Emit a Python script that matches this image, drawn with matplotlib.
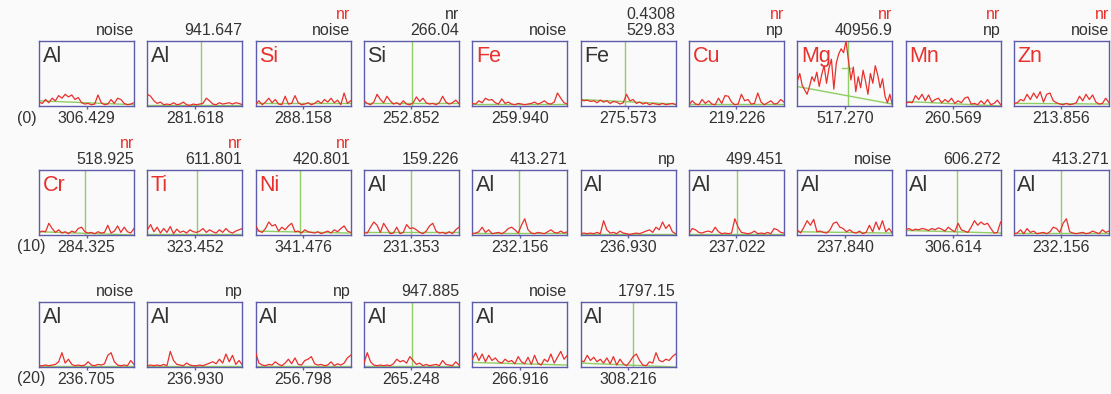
import matplotlib
matplotlib.use("Agg")
import matplotlib.pyplot as plt
import numpy as np

plt.rcParams['font.family'] = ['Liberation Sans', 'DejaVu Sans']

# panel data
elements = ['Al', 'Al', 'Si', 'Si', 'Fe', 'Fe', 'Cu', 'Mg', 'Mn', 'Zn',
            'Cr', 'Ti', 'Ni', 'Al', 'Al', 'Al', 'Al', 'Al', 'Al', 'Al',
            'Al', 'Al', 'Al', 'Al', 'Al', 'Al']
flagged = [False, False, True, False, True, False, True, True, True, True,
           True, True, True, False, False, False, False, False, False, False,
           False, False, False, False, False, False]
top_extra = ['', '', 'nr', 'nr', '', '0.4308', 'nr', 'nr', 'nr', 'nr',
             'nr', 'nr', 'nr', '', '', '', '', '', '', '',
             '', '', '', '', '', '']
top_values = ['noise', '941.647', 'noise', '266.04', 'noise', '529.83', 'np', '40956.9', 'np', 'noise',
              '518.925', '611.801', '420.801', '159.226', '413.271', 'np', '499.451', 'noise', '606.272', '413.271',
              'noise', 'np', 'np', '947.885', 'noise', '1797.15']
wavelengths = ['306.429', '281.618', '288.158', '252.852', '259.940', '275.573', '219.226', '517.270', '260.569', '213.856',
               '284.325', '323.452', '341.476', '231.353', '232.156', '236.930', '237.022', '237.840', '306.614', '232.156',
               '236.705', '236.930', '256.798', '265.248', '266.916', '308.216']
peak_pos = [None, 0.57, None, 0.51, None, 0.47, None, 0.53, None, None,
            0.48, 0.52, 0.47, 0.49, 0.49, None, 0.51, None, 0.54, 0.49,
            None, None, None, 0.51, None, 0.55]
baselines = [(0.08, 0.02), (0.02, 0.02), (0.04, 0.04), (0.04, 0.04), (0.03, 0.03), (0.10, 0.03),
             (0.03, 0.03), (0.30, 0.03), (0.07, 0.0), (0.04, 0.03),
             (0.05, 0.0), (0.02, 0.02), (0.06, 0.03), (0.04, 0.04), (0.03, 0.03), (0.01, 0.01),
             (0.02, 0.02), (0.05, 0.03), (0.07, 0.03), (0.03, 0.03),
             (0.02, 0.02), (0.02, 0.02), (0.02, 0.02), (0.02, 0.02), (0.07, 0.03), (0.06, 0.0)]
row_labels = ['(0)', '(10)', '(20)']

traces = [
    [0.06, 0.04, 0.10, 0.05, 0.12, 0.08, 0.16, 0.12, 0.18, 0.14, 0.17, 0.10, 0.13, 0.05, 0.03,
     0.04, 0.02, 0.03, 0.17, 0.05, 0.02, 0.03, 0.10, 0.04, 0.12, 0.10, 0.04, 0.02, 0.03, 0.05],
    [0.18, 0.15, 0.08, 0.04, 0.06, 0.02, 0.03, 0.02, 0.05, 0.02, 0.03, 0.06, 0.02, 0.01, 0.03,
     0.02, 0.03, 0.04, 0.12, 0.08, 0.03, 0.02, 0.05, 0.03, 0.04, 0.05, 0.03, 0.05, 0.04, 0.02],
    [0.03, 0.08, 0.02, 0.06, 0.12, 0.05, 0.10, 0.03, 0.02, 0.15, 0.03, 0.04, 0.16, 0.05, 0.02,
     0.03, 0.05, 0.02, 0.04, 0.08, 0.04, 0.10, 0.06, 0.12, 0.05, 0.09, 0.02, 0.20, 0.04, 0.08],
    [0.08, 0.04, 0.02, 0.06, 0.18, 0.10, 0.05, 0.15, 0.08, 0.03, 0.05, 0.02, 0.08, 0.03, 0.02,
     0.05, 0.14, 0.07, 0.12, 0.05, 0.03, 0.04, 0.02, 0.05, 0.15, 0.06, 0.03, 0.05, 0.09, 0.04],
    [0.04, 0.03, 0.08, 0.05, 0.12, 0.09, 0.10, 0.05, 0.03, 0.11, 0.04, 0.06, 0.03, 0.02, 0.04,
     0.03, 0.02, 0.03, 0.04, 0.06, 0.03, 0.05, 0.08, 0.04, 0.03, 0.06, 0.20, 0.12, 0.05, 0.03],
    [0.10, 0.08, 0.09, 0.07, 0.08, 0.05, 0.09, 0.06, 0.08, 0.04, 0.07, 0.06, 0.03, 0.05, 0.18,
     0.08, 0.10, 0.04, 0.06, 0.03, 0.05, 0.02, 0.04, 0.03, 0.02, 0.04, 0.02, 0.03, 0.04, 0.02],
    [0.02, 0.08, 0.03, 0.02, 0.10, 0.04, 0.08, 0.03, 0.02, 0.12, 0.04, 0.16, 0.15, 0.06, 0.02,
     0.03, 0.18, 0.08, 0.10, 0.03, 0.04, 0.20, 0.06, 0.02, 0.05, 0.08, 0.03, 0.04, 0.10, 0.06],
    [0.38, 0.50, 0.32, 0.25, 0.18, 0.30, 0.45, 0.38, 0.52, 0.30, 0.48, 0.62, 0.35, 0.58, 0.72,
     0.26, 0.66, 0.80, 0.88, 0.82, 1.00, 0.70, 0.40, 0.60, 0.22, 0.45, 0.28, 0.55, 0.38, 0.18,
     0.50, 0.35, 0.62, 0.48, 0.28, 0.42, 0.15, 0.05, 0.18, 0.02],
    [0.04, 0.06, 0.05, 0.16, 0.10, 0.18, 0.08, 0.17, 0.06, 0.10, 0.12, 0.05, 0.10, 0.06, 0.12,
     0.04, 0.08, 0.05, 0.12, 0.14, 0.03, 0.04, 0.02, 0.08, 0.03, 0.10, 0.02, 0.04, 0.09, 0.02],
    [0.04, 0.05, 0.10, 0.08, 0.18, 0.10, 0.20, 0.12, 0.22, 0.06, 0.18, 0.20, 0.08, 0.05, 0.03,
     0.02, 0.04, 0.02, 0.03, 0.05, 0.15, 0.08, 0.18, 0.10, 0.17, 0.06, 0.03, 0.04, 0.12, 0.05],
    [0.04, 0.06, 0.05, 0.18, 0.10, 0.04, 0.08, 0.03, 0.05, 0.02, 0.06, 0.04, 0.10, 0.12, 0.05,
     0.03, 0.04, 0.02, 0.05, 0.03, 0.04, 0.15, 0.03, 0.06, 0.14, 0.04, 0.12, 0.05, 0.03, 0.10],
    [0.08, 0.16, 0.05, 0.12, 0.03, 0.10, 0.04, 0.13, 0.02, 0.09, 0.04, 0.06, 0.03, 0.08, 0.05,
     0.04, 0.06, 0.10, 0.04, 0.08, 0.05, 0.03, 0.08, 0.04, 0.10, 0.05, 0.03, 0.06, 0.08, 0.10],
    [0.14, 0.06, 0.04, 0.10, 0.20, 0.14, 0.16, 0.06, 0.12, 0.08, 0.14, 0.18, 0.05, 0.06, 0.03,
     0.08, 0.05, 0.04, 0.03, 0.05, 0.02, 0.04, 0.06, 0.03, 0.08, 0.05, 0.10, 0.14, 0.06, 0.04],
    [0.04, 0.03, 0.12, 0.20, 0.15, 0.04, 0.18, 0.10, 0.02, 0.03, 0.12, 0.02, 0.04, 0.16, 0.10,
     0.11, 0.08, 0.04, 0.02, 0.06, 0.14, 0.18, 0.06, 0.03, 0.04, 0.02, 0.05, 0.02, 0.08, 0.12],
    [0.02, 0.03, 0.05, 0.12, 0.04, 0.08, 0.02, 0.03, 0.04, 0.02, 0.05, 0.10, 0.12, 0.08, 0.03,
     0.15, 0.25, 0.08, 0.03, 0.02, 0.04, 0.03, 0.02, 0.05, 0.08, 0.04, 0.03, 0.06, 0.03, 0.05],
    [0.02, 0.03, 0.02, 0.03, 0.02, 0.04, 0.02, 0.22, 0.08, 0.03, 0.04, 0.02, 0.06, 0.03, 0.02,
     0.01, 0.02, 0.03, 0.02, 0.04, 0.06, 0.08, 0.04, 0.12, 0.08, 0.20, 0.10, 0.16, 0.05, 0.02],
    [0.02, 0.10, 0.08, 0.04, 0.03, 0.05, 0.06, 0.04, 0.12, 0.05, 0.02, 0.03, 0.02, 0.03, 0.25,
     0.12, 0.04, 0.03, 0.02, 0.03, 0.06, 0.02, 0.03, 0.02, 0.04, 0.02, 0.10, 0.08, 0.04, 0.03],
    [0.08, 0.03, 0.12, 0.22, 0.15, 0.24, 0.05, 0.06, 0.04, 0.03, 0.08, 0.18, 0.20, 0.12, 0.10,
     0.05, 0.08, 0.04, 0.03, 0.06, 0.02, 0.04, 0.15, 0.05, 0.20, 0.08, 0.22, 0.05, 0.10, 0.03],
    [0.08, 0.10, 0.07, 0.09, 0.08, 0.10, 0.09, 0.07, 0.10, 0.08, 0.11, 0.09, 0.06, 0.12, 0.08,
     0.05, 0.18, 0.08, 0.06, 0.04, 0.12, 0.22, 0.15, 0.20, 0.16, 0.18, 0.10, 0.03, 0.04, 0.20],
    [0.02, 0.03, 0.08, 0.02, 0.10, 0.04, 0.06, 0.02, 0.03, 0.04, 0.02, 0.05, 0.12, 0.10, 0.04,
     0.18, 0.25, 0.05, 0.03, 0.02, 0.03, 0.04, 0.02, 0.03, 0.06, 0.04, 0.02, 0.08, 0.04, 0.06],
    [0.02, 0.02, 0.03, 0.02, 0.03, 0.04, 0.08, 0.22, 0.06, 0.12, 0.04, 0.02, 0.03, 0.02, 0.03,
     0.08, 0.03, 0.02, 0.04, 0.03, 0.05, 0.18, 0.22, 0.08, 0.03, 0.02, 0.03, 0.02, 0.10, 0.04],
    [0.02, 0.03, 0.02, 0.03, 0.02, 0.04, 0.02, 0.24, 0.10, 0.04, 0.03, 0.02, 0.06, 0.03, 0.02,
     0.02, 0.03, 0.02, 0.04, 0.06, 0.08, 0.05, 0.12, 0.06, 0.20, 0.08, 0.18, 0.04, 0.10, 0.03],
    [0.22, 0.06, 0.03, 0.02, 0.04, 0.03, 0.08, 0.04, 0.02, 0.06, 0.12, 0.05, 0.14, 0.04, 0.03,
     0.10, 0.12, 0.16, 0.05, 0.03, 0.04, 0.02, 0.03, 0.08, 0.02, 0.05, 0.03, 0.06, 0.14, 0.18],
    [0.06, 0.22, 0.08, 0.03, 0.02, 0.03, 0.02, 0.03, 0.02, 0.05, 0.12, 0.08, 0.10, 0.06, 0.16,
     0.10, 0.04, 0.06, 0.02, 0.04, 0.02, 0.03, 0.04, 0.02, 0.10, 0.04, 0.03, 0.02, 0.08, 0.03],
    [0.12, 0.22, 0.10, 0.20, 0.08, 0.18, 0.10, 0.14, 0.08, 0.06, 0.12, 0.08, 0.10, 0.05, 0.16,
     0.08, 0.05, 0.15, 0.04, 0.18, 0.06, 0.03, 0.12, 0.08, 0.20, 0.06, 0.15, 0.24, 0.12, 0.18],
    [0.10, 0.08, 0.18, 0.10, 0.15, 0.08, 0.12, 0.06, 0.14, 0.05, 0.16, 0.03, 0.12, 0.05, 0.02,
     0.08, 0.16, 0.20, 0.10, 0.03, 0.02, 0.08, 0.06, 0.22, 0.10, 0.08, 0.12, 0.10, 0.16, 0.20],
]

W, H = 1111, 394
BG = '#fafafa'
BOX = '#5c5cab'
RED = '#e8302c'
DARK = '#333333'
GREEN = '#8fce62'

fig = plt.figure(figsize=(W / 100, H / 100), dpi=100, facecolor=BG)

row_tops = [41, 170, 302]
box_w, box_h = 95, 65

for i, elem in enumerate(elements):
    row, col = divmod(i, 10)
    x0 = 39 + col * 108.33
    y0 = row_tops[row]
    ax = fig.add_axes([x0 / W, 1 - (y0 + box_h) / H, box_w / W, box_h / H])
    ax.set_facecolor(BG)
    ax.set_xlim(0, 1)
    ax.set_ylim(0, 1)
    for s in ax.spines.values():
        s.set_color(BOX)
        s.set_linewidth(1.0)
    ax.set_xticks([0.5])
    ax.set_xticklabels([])
    ax.set_yticks([])
    ax.tick_params(axis='x', length=2.5, width=1, color=BOX, direction='out')

    tr = traces[i]
    ax.plot(np.linspace(0, 1, len(tr)), tr, color=RED, lw=0.9, zorder=3)
    b0, b1 = baselines[i]
    ax.plot([0, 1], [b0, b1], color=GREEN, lw=1.0, zorder=2)
    if peak_pos[i] is not None:
        ax.axvline(peak_pos[i], color=GREEN, lw=1.0, zorder=2)
    if elem == 'Mg':
        ax.plot([0.47, 0.57], [0.59, 0.59], color=GREEN, lw=1.0, zorder=2)

    col_txt = RED if flagged[i] else DARK
    ax.annotate(elem, (0, 1), xycoords='axes fraction', xytext=(2.5, -3.5),
                textcoords='offset points', ha='left', va='top',
                fontsize=15.5, color=col_txt)
    ax.annotate(top_values[i], (1, 1), xycoords='axes fraction', xytext=(0, 4.5),
                textcoords='offset points', ha='right', va='baseline',
                fontsize=11.5, color=DARK, annotation_clip=False)
    if top_extra[i]:
        ax.annotate(top_extra[i], (1, 1), xycoords='axes fraction', xytext=(0, 15.5),
                    textcoords='offset points', ha='right', va='baseline',
                    fontsize=11.5, color=col_txt, annotation_clip=False)
    ax.annotate(wavelengths[i], (0.5, 0), xycoords='axes fraction', xytext=(0, -12.5),
                textcoords='offset points', ha='center', va='baseline',
                fontsize=11.5, color=DARK, annotation_clip=False)

for r, lab in enumerate(row_labels):
    y_base = row_tops[r] + box_h + 16.5
    fig.text(17 / W, 1 - y_base / H, lab, ha='left', va='baseline',
             fontsize=11.5, color=DARK)

fig.savefig('out.png', dpi=100, facecolor=BG)
